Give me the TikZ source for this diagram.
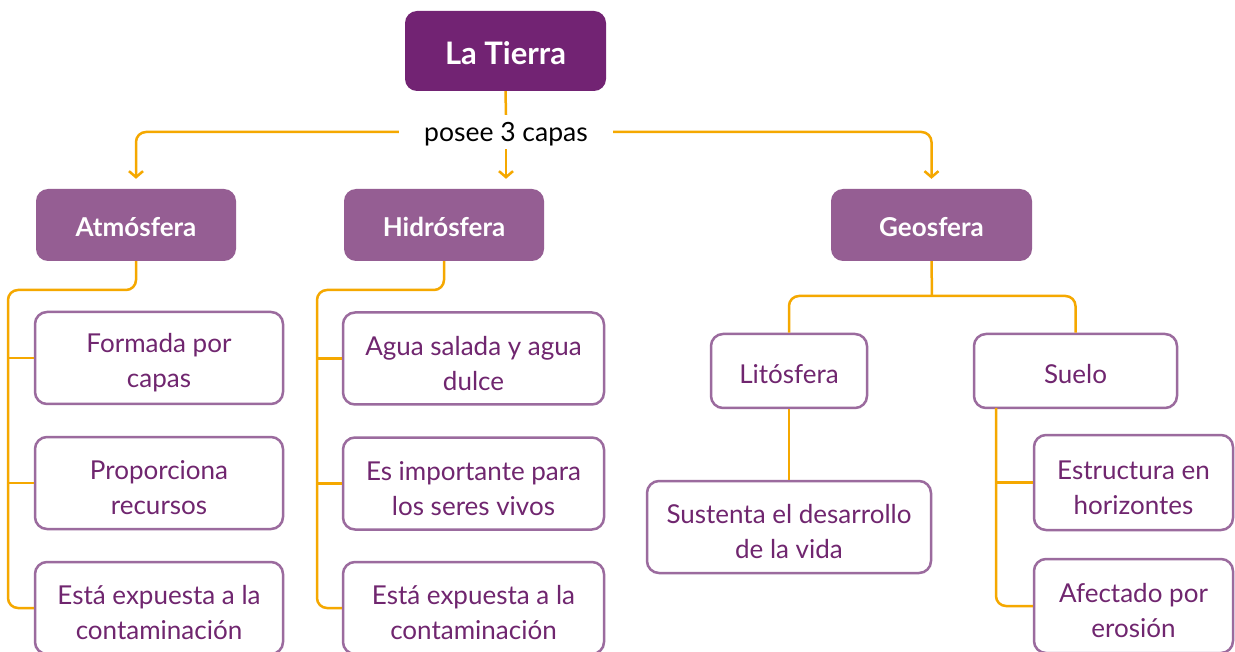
\documentclass[tikz,border=0pt]{standalone}
\usepackage{fontspec}
\setmainfont{Lato}
\usetikzlibrary{arrows.meta}
\definecolor{tierrac}{HTML}{722373}
\definecolor{hdrc}{HTML}{955E93}
\definecolor{bordc}{HTML}{9B6B9E}
\definecolor{txtc}{HTML}{70266F}
\definecolor{orc}{HTML}{F5A800}
\newcommand\tallstrut{\rule{0pt}{29pt}}
\newcommand\onestrut{\rule{0pt}{26pt}}
\tikzset{
  hdr/.style={rectangle, rounded corners=12pt, fill=hdrc, text=white,
    font=\bfseries\fontsize{26}{30}\selectfont, minimum height=72pt, inner sep=0pt,
    text height=24pt, text depth=0pt},
  child/.style={rectangle, rounded corners=12pt, draw=bordc, line width=2.5pt, fill=white,
    text=txtc, align=center, font=\fontsize{26}{35}\selectfont, inner sep=0pt},
  conn/.style={draw=orc, line width=2.5pt, rounded corners=10pt},
  arr/.style={-{Straight Barb[length=6pt,width=14pt,line width=2.5pt]}, shorten >=10pt}
}
\begin{document}
\begin{tikzpicture}[x=1pt,y=-1pt]
\useasboundingbox (0,0) rectangle (1235,652);
\fill[white] (0,0) rectangle (1235,652);
\begin{scope}
\clip (0,0) rectangle (1235,652);
% headers
\node[hdr, fill=tierrac, minimum width=201pt, minimum height=80pt, font=\bfseries\fontsize{31}{34}\selectfont, text height=28pt] (tierra) at (505.5,51) {La Tierra};
\node[font=\fontsize{26.5}{30}\selectfont, minimum width=214pt, minimum height=34pt, inner sep=0pt, text height=20pt, text depth=0pt] (posee) at (506,132) {posee 3 capas};
\node[hdr, minimum width=200pt] (atm) at (136,225) {Atmósfera};
\node[hdr, minimum width=200pt] (hid) at (444,225) {Hidrósfera};
\node[hdr, minimum width=201pt] (geo) at (931.5,225) {Geosfera};
% atmosphere children
\node[child, minimum width=248pt, minimum height=92pt] (a1) at (159,358) {\tallstrut Formada por\\capas};
\node[child, minimum width=248pt, minimum height=92pt] (a2) at (159,483) {\tallstrut Proporciona\\recursos};
\node[child, minimum width=248pt, minimum height=92pt] (a3) at (159,608) {\tallstrut Está expuesta a la\\contaminación};
% hydrosphere children
\node[child, minimum width=261pt, minimum height=92pt] (h1) at (473.5,358.5) {\tallstrut Agua salada y agua\\dulce};
\node[child, minimum width=261pt, minimum height=92pt] (h2) at (473.5,483.5) {\tallstrut Es importante para\\los seres vivos};
\node[child, minimum width=261pt, minimum height=92pt] (h3) at (473.5,608) {\tallstrut Está expuesta a la\\contaminación};
% geosphere
\node[child, minimum width=156pt, minimum height=74pt] (lit) at (789,371) {\onestrut Litósfera};
\node[child, minimum width=203pt, minimum height=74pt] (suelo) at (1075.5,371) {\onestrut Suelo};
\node[child, minimum width=284pt, minimum height=92pt] (sus) at (789,527) {\tallstrut Sustenta el desarrollo\\de la vida};
\node[child, minimum width=199pt, minimum height=95pt] (est) at (1133.5,482.5) {\tallstrut Estructura en\\horizontes};
\node[child, minimum width=199pt, minimum height=94pt] (af) at (1133.5,606) {\tallstrut Afectado por\\erosión};
% coordinates
\coordinate (ax) at (8,290);
\coordinate (hx) at (317,290);
\coordinate (gy) at (932,296);
\coordinate (sx) at (996,408);
% connectors
\draw[conn] (tierra.south) -- (posee.north);
\draw[conn, arr] (posee.south) -- (posee.south |- hid.north);
\draw[conn, arr] (posee.west) -| (atm.north);
\draw[conn, arr] (posee.east) -| (geo.north);
\draw[conn] (atm.south) |- (ax) |- (a3.west);
\draw[conn] (ax |- a1.west) -- (a1.west);
\draw[conn] (ax |- a2.west) -- (a2.west);
\draw[conn] (hid.south) |- (hx) |- (h3.west);
\draw[conn] (hx |- h1.west) -- (h1.west);
\draw[conn] (hx |- h2.west) -- (h2.west);
\draw[conn] (geo.south) -- (gy);
\draw[conn] (lit.north) |- (gy) -| (suelo.north);
\draw[conn] (lit.south) -- (sus.north);
\draw[conn] (sx) |- (af.west);
\draw[conn] (sx |- est.west) -- (est.west);
\end{scope}
\end{tikzpicture}
\end{document}
